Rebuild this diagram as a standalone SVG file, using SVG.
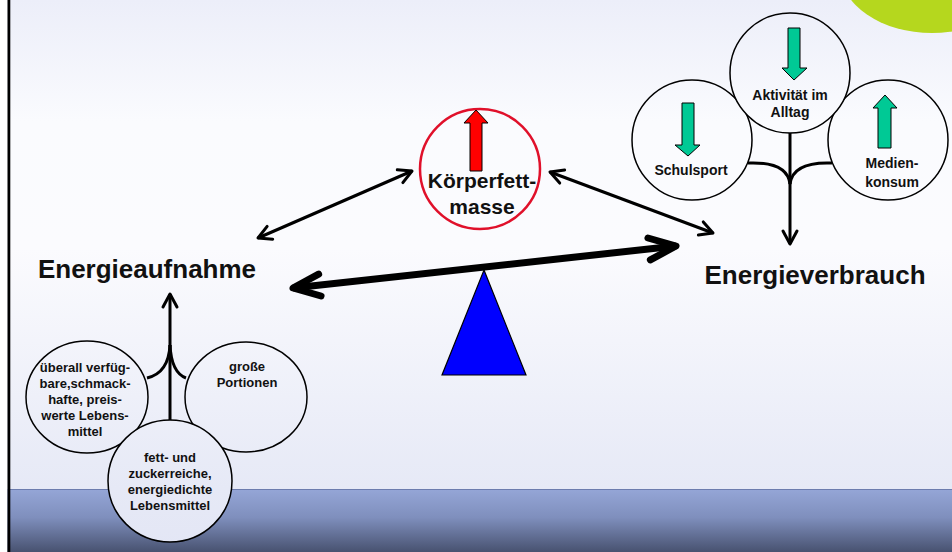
<svg xmlns="http://www.w3.org/2000/svg" width="952" height="552" viewBox="0 0 952 552">
<defs>
<linearGradient id="bg" gradientUnits="userSpaceOnUse" x1="0" y1="0" x2="0" y2="552">
<stop offset="0" stop-color="#eceef9"/>
<stop offset="0.22" stop-color="#fafbfe"/>
<stop offset="0.45" stop-color="#fbfbfe"/>
<stop offset="0.885" stop-color="#e6e9f6"/>
<stop offset="1" stop-color="#e3e6f5"/>
</linearGradient>
<linearGradient id="band" x1="0" y1="0" x2="0" y2="1">
<stop offset="0" stop-color="#95a6d7"/>
<stop offset="0.45" stop-color="#7f8fbd"/>
<stop offset="1" stop-color="#485270"/>
</linearGradient>
<marker id="chev" viewBox="-16 -10 20 20" markerWidth="20" markerHeight="20" refX="0" refY="0" orient="auto-start-reverse" markerUnits="userSpaceOnUse">
<path d="M-13,-7 L0,0 L-13,7" fill="none" stroke="#000" stroke-width="3" stroke-linecap="round" stroke-linejoin="round"/>
</marker>
<marker id="chevBig" viewBox="-34 -18 40 36" markerWidth="40" markerHeight="36" refX="0" refY="0" orient="auto-start-reverse" markerUnits="userSpaceOnUse">
<path d="M-27,-11 L0,0 L-27,11" fill="none" stroke="#000" stroke-width="7" stroke-linecap="round" stroke-linejoin="round"/>
</marker>
<style>
.c{fill:url(#bg);stroke:#000;stroke-width:1.5}
.t{font-family:"Liberation Sans",Arial,sans-serif;font-weight:bold;fill:#111;text-anchor:middle}
.s{font-size:14px}
.m{font-size:13px}
.l{font-size:26px}
.k{font-size:21px}
.ln{fill:none;stroke:#000;stroke-width:3}
.g{fill:#00c995;stroke:#000;stroke-width:1}
</style>
</defs>

<g id="background">
<rect x="0" y="0" width="952" height="552" fill="url(#bg)"/>
<rect x="0" y="489" width="952" height="63" fill="url(#band)"/>
<line x1="10" y1="489.5" x2="952" y2="489.5" stroke="#6c7cae" stroke-width="1"/>
<rect x="0" y="0" width="7.5" height="552" fill="#ffffff"/>
<rect x="7.5" y="0" width="2.8" height="552" fill="#000"/>
<ellipse cx="932" cy="-30" rx="92" ry="63" fill="#b5d71e"/>
</g>

<g id="connectors">
<line class="ln" x1="258" y1="238" x2="412" y2="171" marker-start="url(#chev)" marker-end="url(#chev)"/>
<line class="ln" x1="550" y1="172" x2="713" y2="233" marker-start="url(#chev)" marker-end="url(#chev)"/>
<line x1="293" y1="288" x2="676" y2="246" stroke="#000" stroke-width="7" marker-start="url(#chevBig)" marker-end="url(#chevBig)"/>
<line class="ln" x1="790" y1="130" x2="790" y2="244" marker-end="url(#chev)"/>
<path class="ln" d="M748,163 C772,162 788,168 790,184"/>
<path class="ln" d="M832,163 C808,162 792,168 790,184"/>
<line class="ln" x1="170" y1="424" x2="170" y2="294" marker-end="url(#chev)"/>
<path class="ln" d="M147,378 C160,375 169,365 170,345"/>
<path class="ln" d="M186,378 C178,375 171,365 170,345"/>
</g>

<g id="balance">
<polygon points="484,270 526,375 442,375" fill="#0000ff" stroke="#000" stroke-width="1.2"/>
</g>

<g id="energieaufnahme">
<text class="t l" x="147" y="278">Energieaufnahme</text>
</g>

<g id="energieverbrauch">
<text class="t l" x="815" y="284">Energieverbrauch</text>
</g>

<g id="koerperfett">
<circle cx="480" cy="169" r="60" fill="url(#bg)" stroke="#e0102a" stroke-width="2.5"/>
<path d="M476,110 L488,123 L482,123 L482,171 L470,171 L470,123 L464,123 Z" fill="#ff0000" stroke="#000" stroke-width="1"/>
<text class="t k" x="482" y="188">Körperfett-</text>
<text class="t k" x="482" y="214">masse</text>
</g>

<g id="schulsport">
<circle class="c" cx="692" cy="140" r="60"/>
<path class="g" d="M682,103 L694,103 L694,145 L700,145 L688,156 L675,145 L682,145 Z"/>
<text class="t s" x="691" y="175">Schulsport</text>
</g>

<g id="medienkonsum">
<circle class="c" cx="888" cy="140" r="60"/>
<path class="g" d="M885,95 L897,108 L891,108 L891,148 L878,148 L878,108 L873,108 Z"/>
<text class="t s" x="892" y="168">Medien-</text>
<text class="t s" x="892" y="187">konsum</text>
</g>

<g id="aktivitaet">
<circle class="c" cx="790" cy="73" r="60"/>
<path class="g" d="M788,28 L800,28 L800,68 L807,68 L794,80 L782,68 L788,68 Z"/>
<text class="t s" x="790" y="100">Aktivität im</text>
<text class="t s" x="790" y="117">Alltag</text>
</g>

<g id="ueberall">
<ellipse class="c" cx="87" cy="397" rx="61" ry="56"/>
<text class="t m" x="85" y="372">überall verfüg-</text>
<text class="t m" x="85" y="388">bare,schmack-</text>
<text class="t m" x="85" y="404">hafte, preis-</text>
<text class="t m" x="85" y="420">werte Lebens-</text>
<text class="t m" x="85" y="436">mittel</text>
</g>

<g id="grosse">
<ellipse class="c" cx="246" cy="397" rx="61" ry="55"/>
<text class="t m" x="247" y="371">große</text>
<text class="t m" x="247" y="387">Portionen</text>
</g>

<g id="fett">
<ellipse class="c" cx="170" cy="481" rx="62" ry="61"/>
<text class="t m" x="170" y="462">fett- und</text>
<text class="t m" x="170" y="478">zuckerreiche,</text>
<text class="t m" x="170" y="494">energiedichte</text>
<text class="t m" x="170" y="510">Lebensmittel</text>
</g>
</svg>
